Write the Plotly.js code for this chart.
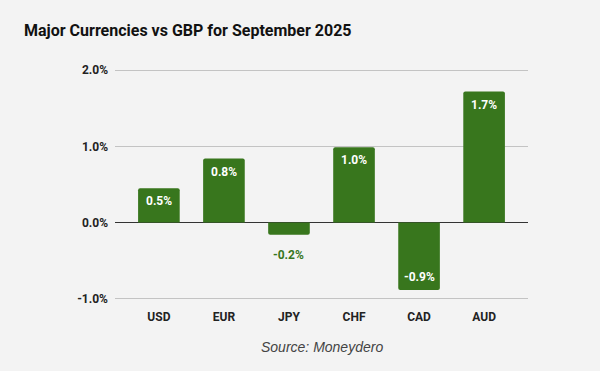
<!DOCTYPE html>
<html><head><meta charset="utf-8">
<script src="https://cdn.plot.ly/plotly-3.0.1.min.js"></script>
<style>body{margin:0;background:#f3f3f3}#c{width:600px;height:371px}</style>
</head><body><div id="c"></div>
<script>
const categories = ['USD','EUR','JPY','CHF','CAD','AUD'];
const values = [0.45, 0.84, -0.16, 0.99, -0.885, 1.72];
const labels = ['0.5%','0.8%','-0.2%','1.0%','-0.9%','1.7%'];
const labelInside = [true, true, false, true, true, true];
const tickVals = [-1, 0, 1, 2];
const tickText = ['-1.0%','0.0%','1.0%','2.0%'];
const green = '#38761d';

const trace = {
  type: 'bar', x: categories, y: values,
  marker: {color: green},
  width: 0.64, hoverinfo: 'none'
};
const labelAnnotations = categories.map((c, i) => {
  const v = values[i];
  const sign = v >= 0 ? 1 : -1;
  const shift = labelInside[i] ? -sign * 13 : sign * 20;
  return {
    x: c, y: v, xref: 'x', yref: 'y', text: labels[i], showarrow: false,
    yshift: shift, xanchor: 'center', yanchor: 'middle',
    font: {family: 'Roboto', size: 12, weight: 'bold', color: labelInside[i] ? '#ffffff' : green}
  };
});
const layout = {
  width: 600, height: 371,
  paper_bgcolor: '#f3f3f3', plot_bgcolor: '#f3f3f3',
  margin: {l: 115, r: 72, t: 68, b: 70},
  barcornerradius: 2,
  showlegend: false,
  title: {text: '<b>Major Currencies vs GBP for September 2025</b>', x: 24/600, xanchor: 'left', xref: 'container', y: 1 - 30/371, yanchor: 'middle', yref: 'container',
    font: {family: 'Roboto', size: 16, color: '#111'}},
  xaxis: {range: [-0.675, 5.675], showgrid: false, zeroline: false, showline: false, ticks: '', ticklabelstandoff: 7,
    tickfont: {family: 'Roboto', size: 12, weight: 'bold', color: '#222'}, fixedrange: true},
  yaxis: {range: [-1.03, 2.03], tickvals: tickVals, ticktext: tickText, showgrid: true, gridcolor: '#c3c3c3', gridwidth: 1,
    zeroline: true, zerolinecolor: '#333', zerolinewidth: 1.3, ticks: '', ticklabelstandoff: 6,
    tickfont: {family: 'Roboto', size: 12, weight: 'bold', color: '#222'}, fixedrange: true},
  annotations: labelAnnotations.concat([{text: 'Source: Moneydero', xref: 'paper', yref: 'paper',
    x: (322 - 115) / 413, xanchor: 'center', y: (301 - 347) / 233, yanchor: 'middle',
    showarrow: false, font: {family: 'Liberation Sans', size: 14, style: 'italic', color: '#444'}}])
};
Plotly.newPlot('c', [trace], layout, {staticPlot: true, displayModeBar: false});
</script></body></html>
